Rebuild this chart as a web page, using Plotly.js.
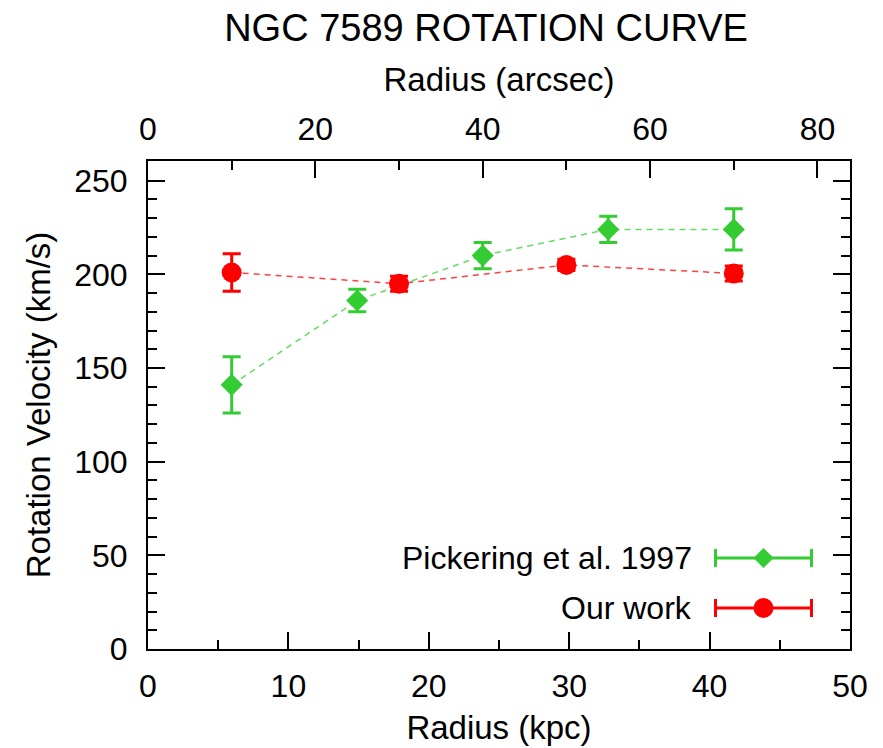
<!DOCTYPE html>
<html>
<head>
<meta charset="utf-8">
<script src="https://cdn.plot.ly/plotly-3.0.1.min.js"></script>
<style>html,body{margin:0;padding:0;background:#fff;}#chart{width:883px;height:748px;}</style>
</head>
<body>
<div id="chart"></div>
<script>
// Data (radius in arcsec, velocity in km/s)
const pickeringRadiusArcsec = [10, 25, 40, 55, 70];
const pickeringVelocity     = [141, 186, 210, 224, 224];
const pickeringError        = [15, 6, 7, 7, 11];

const ourRadiusArcsec = [10, 30, 50, 70];
const ourVelocity     = [201, 195, 205, 200.5];
const ourError        = [10, 4, 3, 4];

// axis scale: kpc per arcsec
const kpcPerArcsec = 0.596;
const kpcMax = 50;

const GREEN = '#33cc33';
const RED = '#ff0000';
const FONT = 'Liberation Sans, Arial, sans-serif';
const TICK_SIZE = 32, AXT_SIZE = 33;

const traces = [
  // empty trace so that the kpc axis (bottom) is drawn
  {x: [], y: [], xaxis: 'x', yaxis: 'y', type: 'scatter', mode: 'markers', showlegend: false, hoverinfo: 'skip'},
  {
    x: ourRadiusArcsec, y: ourVelocity, xaxis: 'x2', yaxis: 'y',
    type: 'scatter', mode: 'lines', name: 'Our work line',
    line: {color: 'rgba(255,0,0,0.75)', width: 1.5, dash: '6px,5px'},
    showlegend: false, hoverinfo: 'skip'
  },
  {
    x: pickeringRadiusArcsec, y: pickeringVelocity, xaxis: 'x2', yaxis: 'y',
    type: 'scatter', mode: 'lines', name: 'Pickering line',
    line: {color: 'rgba(51,204,51,0.75)', width: 1.5, dash: '6px,5px'},
    showlegend: false, hoverinfo: 'skip'
  },
  {
    x: pickeringRadiusArcsec, y: pickeringVelocity, xaxis: 'x2', yaxis: 'y',
    type: 'scatter', mode: 'markers', name: 'Pickering et al. 1997',
    marker: {symbol: 'diamond', size: 17, color: GREEN},
    error_y: {type: 'data', array: pickeringError, visible: true, color: GREEN, thickness: 3, width: 9},
    showlegend: false
  },
  {
    x: ourRadiusArcsec, y: ourVelocity, xaxis: 'x2', yaxis: 'y',
    type: 'scatter', mode: 'markers', name: 'Our work',
    marker: {symbol: 'circle', size: 20, color: RED},
    error_y: {type: 'data', array: ourError, visible: true, color: RED, thickness: 3, width: 9},
    showlegend: false
  }
];

// legend helpers (paper coords)
const L = 148, R = 850, T = 161, B = 649;
const px = v => (v - L) / (R - L);
const py = v => (B - v) / (B - T);

function legendShapes(yPix, color, symbol) {
  const yp = py(yPix);
  const shapes = [
    {type: 'line', xref: 'paper', yref: 'paper', x0: px(715), x1: px(812), y0: yp, y1: yp, line: {color: color, width: 3}},
    {type: 'line', xref: 'paper', yref: 'paper', ysizemode: 'pixel', yanchor: yp, x0: px(715.5), x1: px(715.5), y0: -9, y1: 9, line: {color: color, width: 3}},
    {type: 'line', xref: 'paper', yref: 'paper', ysizemode: 'pixel', yanchor: yp, x0: px(811.5), x1: px(811.5), y0: -9, y1: 9, line: {color: color, width: 3}}
  ];
  if (symbol === 'diamond') {
    shapes.push({type: 'path', xref: 'paper', yref: 'paper', xsizemode: 'pixel', ysizemode: 'pixel',
      xanchor: px(763.5), yanchor: yp, path: 'M -10 0 L 0 10 L 10 0 L 0 -10 Z',
      fillcolor: color, line: {width: 0}});
  } else {
    shapes.push({type: 'circle', xref: 'paper', yref: 'paper', xsizemode: 'pixel', ysizemode: 'pixel',
      xanchor: px(763.5), yanchor: yp, x0: -10, x1: 10, y0: -10, y1: 10,
      fillcolor: color, line: {width: 0}});
  }
  return shapes;
}

const axisCommon = {
  showgrid: false, zeroline: false, showline: true, linecolor: '#000', linewidth: 2,
  ticks: 'inside', ticklen: 17, tickwidth: 2, tickcolor: '#000',
  tickfont: {family: FONT, size: TICK_SIZE, color: '#000'}
};

const layout = {
  width: 883, height: 748,
  margin: {l: L, r: 883 - R, t: T, b: 748 - B},
  paper_bgcolor: '#fff', plot_bgcolor: '#fff',
  showlegend: false,
  font: {family: FONT, color: '#000'},
  title: {text: 'NGC 7589 ROTATION CURVE', font: {family: FONT, size: 38, color: '#000'},
          x: 486 / 883, xanchor: 'center', xref: 'container', y: 1 - 28 / 748, yanchor: 'middle', yref: 'container'},
  xaxis: Object.assign({}, axisCommon, {
    range: [0, kpcMax], dtick: 10, tick0: 0, side: 'bottom', anchor: 'y',
    minor: {dtick: 5, ticks: 'inside', ticklen: 9, tickwidth: 2, tickcolor: '#000'},
    ticklabelstandoff: 8,
    title: {text: 'Radius (kpc)', font: {family: FONT, size: AXT_SIZE, color: '#000'}, standoff: 12}
  }),
  xaxis2: Object.assign({}, axisCommon, {
    range: [0, kpcMax / kpcPerArcsec], dtick: 20, tick0: 0, side: 'top', overlaying: 'x', anchor: 'y',
    minor: {dtick: 10, ticks: 'inside', ticklen: 9, tickwidth: 2, tickcolor: '#000'},
    ticklabelstandoff: 6,
    title: {text: 'Radius (arcsec)', font: {family: FONT, size: AXT_SIZE, color: '#000'}, standoff: 10}
  }),
  yaxis: Object.assign({}, axisCommon, {
    range: [0, 260.5], dtick: 50, tick0: 0, mirror: 'ticks',
    minor: {dtick: 10, ticks: 'inside', ticklen: 9, tickwidth: 2, tickcolor: '#000'},
    ticklabelstandoff: 12,
    title: {text: 'Rotation Velocity (km/s)', font: {family: FONT, size: AXT_SIZE, color: '#000'}, standoff: 14}
  }),
  shapes: [].concat(legendShapes(558, GREEN, 'diamond'), legendShapes(608, RED, 'circle')),
  annotations: [
    {text: 'Pickering et al. 1997', xref: 'paper', yref: 'paper', x: px(694), y: py(558),
     xanchor: 'right', yanchor: 'middle', showarrow: false, font: {family: FONT, size: TICK_SIZE, color: '#000'}},
    {text: 'Our work', xref: 'paper', yref: 'paper', x: px(694), y: py(608),
     xanchor: 'right', yanchor: 'middle', showarrow: false, font: {family: FONT, size: TICK_SIZE, color: '#000'}}
  ]
};

Plotly.newPlot('chart', traces, layout, {displayModeBar: false, staticPlot: true});
</script>
</body>
</html>
